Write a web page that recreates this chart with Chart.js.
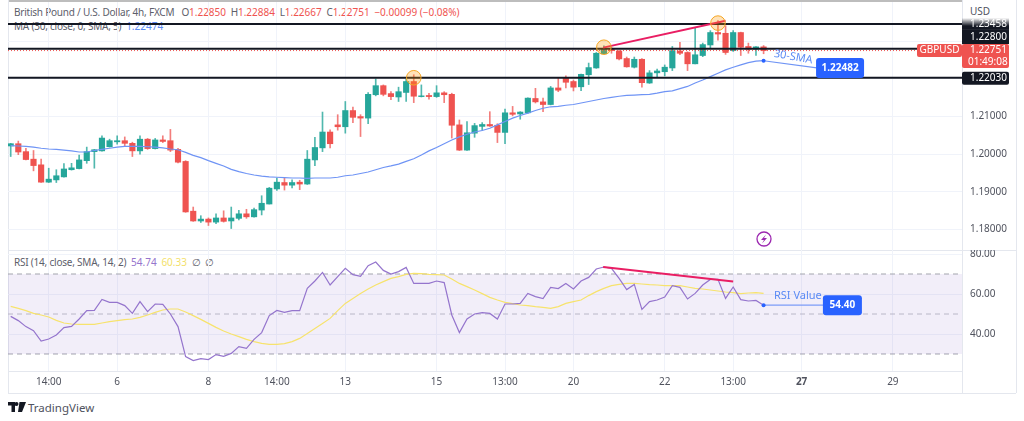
<!DOCTYPE html>
<html>
<head>
<meta charset="utf-8">
<script src="https://cdn.jsdelivr.net/npm/chart.js@4"></script>
<style>
  html, body { margin:0; padding:0; background:#fff; width:1024px; height:421px; overflow:hidden; }
  body { font-family:"Noto Sans", sans-serif; font-size:10px; color:#5d606b; }
  canvas { position:absolute; left:0; z-index:2; }
  #priceChart { top:0; }
  #rsiChart { top:250px; }
  .rule { position:absolute; background:#e4e7ee; }
  .legend { position:absolute; left:14px; white-space:pre; line-height:14px; z-index:1; letter-spacing:-0.22px; }
  .legend span { letter-spacing:0; }
  .red { color:#ef5350; } .blue { color:#5b8bf5; } .purple { color:#9575cd; } .yellow { color:#f3df6c; }
  #logo { position:absolute; left:8px; top:400px; height:14px; display:flex; align-items:center; font-size:11.5px; color:#50535e; }
  #usd { position:absolute; left:970px; top:4px; color:#50535e; }
</style>
</head>
<body>
<div class="rule" style="left:8px;top:0;width:954px;height:2px;background:#bdbdbd"></div>
<div class="rule" style="left:8px;top:0;width:1px;height:393px"></div>
<div class="rule" style="left:962px;top:0;width:1px;height:393px"></div>
<div class="rule" style="left:1016px;top:0;width:1px;height:393px"></div>
<div class="rule" style="left:8px;top:250px;width:1008px;height:1px"></div>
<div class="rule" style="left:8px;top:371px;width:954px;height:1px"></div>
<div class="rule" style="left:8px;top:393px;width:1008px;height:1px"></div>

<div id="usd">USD</div>
<div class="legend" style="top:5px">British Pound / U.S. Dollar, 4h, FXCM   O<span class="red">1.22850</span>  H<span class="red">1.22884</span>  L<span class="red">1.22667</span>  C<span class="red">1.22751</span>  <span class="red">−0.00099 (−0.08%)</span></div>
<div class="legend" style="top:19px">MA (30, close, 0, SMA, 5)  <span class="blue">1.22474</span></div>
<div class="legend" style="top:255px">RSI (14, close, SMA, 14, 2)  <span class="purple">54.74</span>  <span class="yellow">60.33</span>  ∅  ∅</div>

<canvas id="priceChart" width="1024" height="250"></canvas>
<canvas id="rsiChart" width="1024" height="143"></canvas>

<div id="logo">
  <svg width="18" height="10" viewBox="0 0 36 20" style="margin-right:2px"><path fill="#131722" d="M0 0h14v20H7V7H0zM17 0a4 4 0 1 1 0 8 4 4 0 0 1 0-8zM23 0h13l-8 20h-8z"/></svg>
  TradingView
</div>

<script>
  var GREEN = "#26a69a", RED = "#ef5350", BLUE = "#2962ff", FONT = '"Noto Sans", sans-serif';

  // open, high, low, close of each 4h candle
  var candles = [
    [1.2022,1.2029,1.1994,1.2028],[1.2028,1.2035,1.1999,1.2006],[1.2007,1.2016,1.1985,1.1986],[1.1987,1.2010,1.1956,1.1970],
    [1.1972,1.1987,1.1925,1.1926],[1.1926,1.1963,1.1925,1.1934],[1.1932,1.1959,1.1925,1.1943],[1.1940,1.1975,1.1939,1.1961],
    [1.1959,1.1976,1.1958,1.1964],[1.1962,1.1998,1.1961,1.1985],[1.1983,1.2019,1.1976,1.2007],[1.2007,1.2013,1.1963,1.2012],
    [1.2009,1.2049,1.2008,1.2043],[1.2020,1.2040,1.2019,1.2036],[1.2033,1.2049,1.2027,1.2036],[1.2036,1.2046,1.2021,1.2029],
    [1.2029,1.2032,1.1994,1.2009],[1.2009,1.2049,1.2000,1.2040],[1.2040,1.2042,1.2013,1.2015],[1.2015,1.2042,1.2014,1.2038],
    [1.2038,1.2049,1.2031,1.2034],[1.2036,1.2066,1.2007,1.2011],[1.2013,1.2016,1.1977,1.1979],[1.1981,1.1983,1.1846,1.1847],
    [1.1849,1.1860,1.1822,1.1823],[1.1823,1.1837,1.1819,1.1828],[1.1828,1.1831,1.1811,1.1820],[1.1820,1.1842,1.1816,1.1831],
    [1.1831,1.1850,1.1820,1.1822],[1.1823,1.1860,1.1803,1.1831],[1.1830,1.1851,1.1826,1.1842],[1.1842,1.1854,1.1830,1.1834],
    [1.1834,1.1857,1.1833,1.1853],[1.1852,1.1890,1.1839,1.1870],[1.1868,1.1912,1.1868,1.1910],[1.1908,1.1937,1.1904,1.1926],
    [1.1925,1.1937,1.1905,1.1918],[1.1918,1.1932,1.1911,1.1925],[1.1926,1.1931,1.1906,1.1921],[1.1921,1.2010,1.1920,1.1987],
    [1.1985,1.2045,1.1970,1.2018],[1.2017,1.2112,1.2007,1.2059],[1.2059,1.2065,1.2017,1.2028],[1.2078,1.2105,1.2064,1.2073],
    [1.2073,1.2140,1.2056,1.2116],[1.2116,1.2125,1.2084,1.2098],[1.2100,1.2105,1.2047,1.2096],[1.2096,1.2164,1.2081,1.2159],
    [1.2158,1.2200,1.2155,1.2182],[1.2182,1.2184,1.2155,1.2159],[1.2161,1.2166,1.2145,1.2153],[1.2152,1.2178,1.2140,1.2166],
    [1.2164,1.2199,1.2140,1.2193],[1.2193,1.2211,1.2137,1.2154],[1.2153,1.2184,1.2152,1.2155],[1.2156,1.2162,1.2146,1.2153],
    [1.2153,1.2182,1.2151,1.2163],[1.2163,1.2166,1.2137,1.2158],[1.2159,1.2162,1.2043,1.2077],[1.2078,1.2091,1.2010,1.2011],
    [1.2011,1.2087,1.2010,1.2057],[1.2056,1.2082,1.2045,1.2076],[1.2074,1.2084,1.2063,1.2079],[1.2079,1.2113,1.2074,1.2075],
    [1.2077,1.2081,1.2031,1.2058],[1.2058,1.2120,1.2028,1.2110],[1.2110,1.2127,1.2102,1.2106],[1.2107,1.2113,1.2093,1.2112],
    [1.2110,1.2150,1.2109,1.2149],[1.2148,1.2175,1.2136,1.2139],[1.2139,1.2149,1.2113,1.2132],[1.2132,1.2180,1.2131,1.2176],
    [1.2176,1.2202,1.2166,1.2170],[1.2202,1.2208,1.2176,1.2191],[1.2193,1.2197,1.2168,1.2178],[1.2179,1.2213,1.2169,1.2212],
    [1.2211,1.2242,1.2185,1.2230],[1.2229,1.2270,1.2228,1.2268],[1.2267,1.2288,1.2266,1.2281],[1.2281,1.2284,1.2268,1.2275],
    [1.2274,1.2275,1.2250,1.2253],[1.2254,1.2258,1.2231,1.2232],[1.2231,1.2258,1.2229,1.2252],[1.2252,1.2254,1.2178,1.2190],
    [1.2189,1.2222,1.2188,1.2216],[1.2216,1.2226,1.2205,1.2221],[1.2219,1.2237,1.2208,1.2231],[1.2229,1.2286,1.2222,1.2275],
    [1.2274,1.2297,1.2264,1.2268],[1.2270,1.2272,1.2222,1.2240],[1.2240,1.2337,1.2240,1.2264],[1.2262,1.2295,1.2259,1.2291],
    [1.2290,1.2328,1.2281,1.2323],[1.2323,1.2355,1.2303,1.2319],[1.2321,1.2341,1.2265,1.2270],[1.2275,1.2328,1.2273,1.2323],
    [1.2323,1.2324,1.2262,1.2284],[1.2286,1.2295,1.2268,1.2279],[1.2279,1.2286,1.2262,1.2285],[1.22850,1.22884,1.22667,1.22751]
  ];

  var sma30 = [
    1.2023,1.2022,1.2021,1.2019,1.2016,1.2014,1.2013,1.2011,1.2009,1.2006,
    1.2006,1.2010,1.2013,1.2016,1.2019,1.2021,1.2021,1.2021,1.2020,1.2019,
    1.2017,1.2014,1.2012,1.2005,1.1997,1.1991,1.1983,1.1976,1.1969,1.1960,
    1.1954,1.1949,1.1945,1.1942,1.1940,1.1939,1.1938,1.1937,1.1937,1.1936,
    1.1937,1.1937,1.1937,1.1939,1.1943,1.1945,1.1949,1.1953,1.1959,1.1965,
    1.1969,1.1974,1.1981,1.1988,1.1998,1.2009,1.2018,1.2028,1.2038,1.2046,
    1.2053,1.2059,1.2063,1.2069,1.2078,1.2087,1.2096,1.2103,1.2109,1.2116,
    1.2122,1.2126,1.2127,1.2130,1.2132,1.2136,1.2140,1.2144,1.2148,1.2151,
    1.2154,1.2156,1.2157,1.2158,1.2159,1.2162,1.2166,1.2168,1.2174,1.2180,
    1.2189,1.2197,1.2206,1.2215,1.2224,1.2231,1.2237,1.2243,1.2247,1.22482
  ];

  var rsi = [
    48.8,46.7,43.7,41.7,36.5,37.5,39.5,43.2,43.8,47.5,
    51.7,51.8,57.3,55.8,55.8,54.2,50.3,56.2,51.2,55.0,
    54.8,50.0,43.7,28.7,26.7,27.7,27.2,29.7,28.8,30.3,
    33.7,32.8,37.3,40.7,49.2,51.8,50.8,51.7,51.7,62.8,
    66.5,70.8,64.5,68.7,72.8,69.7,68.8,74.2,76.0,71.8,
    70.0,71.2,73.3,65.3,65.3,65.3,66.5,65.7,49.5,40.7,
    47.5,50.0,50.7,50.3,47.5,55.0,55.0,55.3,60.3,58.7,
    57.7,63.3,62.7,65.3,62.5,66.5,68.3,72.5,73.5,72.8,
    67.8,62.2,64.8,52.3,56.2,57.0,58.5,64.2,63.3,57.5,
    60.3,64.5,67.3,67.3,57.8,63.5,57.2,56.5,56.8,54.4
  ];

  var rsiMa = [
    53.8,52.8,51.7,50.3,49.5,48.5,46.8,45.5,45.0,44.8,
    44.8,44.8,45.5,46.2,46.7,47.2,47.5,48.3,49.5,50.8,
    52.0,52.5,52.5,51.0,49.2,47.3,45.3,43.3,41.5,40.0,
    38.7,37.3,36.2,35.3,34.8,34.8,35.2,36.2,37.8,40.2,
    42.8,45.3,47.8,51.7,55.3,57.8,60.3,62.5,64.5,66.2,
    67.8,68.7,69.8,70.3,70.2,69.8,69.7,69.5,67.5,65.3,
    63.7,62.0,60.2,58.3,57.0,55.8,55.2,54.5,54.2,53.7,
    53.3,52.8,53.7,55.3,56.2,57.0,59.2,61.2,62.8,64.2,
    64.8,65.3,65.3,65.0,64.7,64.5,64.2,64.2,64.2,63.5,
    62.8,62.5,62.0,61.5,61.0,60.7,60.2,60.5,60.7,60.33
  ];

  var timeTicks = { 5:"14:00", 14:"6", 26:"8", 35:"14:00", 44:"13", 56:"15", 65:"13:00", 74:"20", 86:"22", 95:"13:00", 104:"27", 116:"29" };
  var tickIdx = Object.keys(timeTicks).map(Number);
  var X_MIN = -0.355, X_MAX = 125.09;
  var levels = [1.23458, 1.22800, 1.22030];
  var LAST = 1.22751;

  function xy(arr) {
    return arr.map(function (v, i) { return { x: i, y: v }; });
  }
  function hline(v) {
    return [{ x: X_MIN, y: v }, { x: X_MAX, y: v }];
  }
  function lineDs(data, color, width, order, extra) {
    return Object.assign({ type: "line", data: data, borderColor: color, borderWidth: width, pointRadius: 0, tension: 0, order: order }, extra || {});
  }
  function xScale(showLabels) {
    return {
      type: "linear", min: X_MIN, max: X_MAX, offset: false,
      afterBuildTicks: function (axis) { axis.ticks = tickIdx.map(function (v) { return { value: v }; }); },
      afterFit: function (axis) {
        axis.height = showLabels ? 22 : 0;
        axis.paddingLeft = 0;
        axis.paddingRight = 0;
      },
      grid: { color: "#f0f3fa", offset: false, drawTicks: false },
      border: { display: false },
      ticks: {
        display: showLabels, autoSkip: false, maxRotation: 0, padding: 5, color: "#50535e",
        font: function (ctx) { return { family: FONT, size: 10, weight: ctx.tick && ctx.tick.value === 104 ? "bold" : "normal" }; },
        callback: function (v) { return timeTicks[v]; }
      }
    };
  }
  // keep the pane edges where they are, tick label padding would shrink the area
  function fitY(axis) {
    axis.width = 62;
    axis.paddingTop = 0;
    axis.paddingBottom = 0;
  }
  function box(ctx, x, y, w, h, r, color) {
    ctx.fillStyle = color;
    ctx.beginPath();
    ctx.roundRect(x, y, w, h, r);
    ctx.fill();
  }
  function label(ctx, text, x, y, color, align) {
    ctx.fillStyle = color;
    ctx.textAlign = align || "left";
    ctx.textBaseline = "middle";
    ctx.fillText(text, x, y);
  }

  // axis tags, callout boxes and the lightning icon
  var priceTags = {
    id: "priceTags",
    afterDatasetsDraw: function (chart) {
      var ctx = chart.ctx, ys = chart.scales.y, xs = chart.scales.x;
      ctx.save();
      ctx.font = "10px " + FONT;

      var y1 = ys.getPixelForValue(levels[0]);
      var grad = ctx.createLinearGradient(0, y1 - 6, 0, y1 + 2);
      grad.addColorStop(0, "rgba(19,23,34,0)");
      grad.addColorStop(1, "#131722");
      ctx.fillStyle = grad;
      ctx.fillRect(962, y1 - 6, 47, 12);
      label(ctx, "1.23458", 970, y1, "#fff");

      box(ctx, 962, 30, 47, 14, 0, "#131722");
      label(ctx, "1.22800", 970, 37, "#fff");

      var y3 = ys.getPixelForValue(levels[2]);
      box(ctx, 962, y3 - 6, 47, 13, 2, "#131722");
      label(ctx, "1.22030", 970, y3 + 0.5, "#fff");

      box(ctx, 962, 44, 47, 24, 2, RED);
      label(ctx, "1.22751", 970, 50.5, "#fff");
      label(ctx, "01:49:08", 968, 62, "#fff");
      box(ctx, 917, 44, 45, 13, 2, RED);
      label(ctx, "GBPUSD", 939.5, 50.5, "#fff", "center");

      // MA callout
      var bx = xs.getPixelForValue(105.9), by = ys.getPixelForValue(1.2229);
      box(ctx, bx, by - 10, 48, 20, 3, BLUE);
      ctx.font = "bold 10px " + FONT;
      label(ctx, "1.22482", bx + 24, by, "#fff", "center");

      ctx.font = "11px " + FONT;
      ctx.translate(xs.getPixelForValue(102.9), ys.getPixelForValue(1.2258));
      ctx.rotate(10 * Math.PI / 180);
      label(ctx, "30-SMA", 0, 0, "#5b8bf5", "center");
      ctx.restore();

      // lightning icon
      ctx.save();
      ctx.strokeStyle = "#9c27b0";
      ctx.lineWidth = 1.3;
      ctx.beginPath();
      ctx.arc(764, 239, 7, 0, Math.PI * 2);
      ctx.stroke();
      ctx.fillStyle = "#9c27b0";
      ctx.beginPath();
      ctx.moveTo(766, 234.5); ctx.lineTo(761, 240); ctx.lineTo(764, 240);
      ctx.lineTo(762, 243.5); ctx.lineTo(767, 238); ctx.lineTo(764, 238);
      ctx.closePath();
      ctx.fill();
      ctx.restore();
    }
  };

  var rsiTags = {
    id: "rsiTags",
    afterDatasetsDraw: function (chart) {
      var ctx = chart.ctx, ys = chart.scales.y, xs = chart.scales.x;
      var bx = xs.getPixelForValue(106.8), by = ys.getPixelForValue(54.4);
      ctx.save();
      box(ctx, bx, by - 10, 39, 20, 3, BLUE);
      ctx.font = "bold 10px " + FONT;
      label(ctx, "54.40", bx + 19.5, by, "#fff", "center");
      ctx.font = "11px " + FONT;
      label(ctx, "RSI Value", bx - 49, by - 9, "#5b8bf5");
      ctx.restore();
    }
  };

  new Chart(document.getElementById("priceChart"), {
    type: "bar",
    plugins: [priceTags],
    data: {
      datasets: [
        { data: candles.map(function (c, i) { return { x: i, y: [c[2], c[1]] }; }),
          backgroundColor: candles.map(function (c) { return c[3] >= c[0] ? "rgba(38,166,154,0.8)" : "rgba(239,83,80,0.75)"; }),
          barThickness: 1, grouped: false, order: 6 },
        { data: candles.map(function (c, i) { return { x: i, y: [c[0], c[3]] }; }),
          backgroundColor: candles.map(function (c) { return c[3] >= c[0] ? GREEN : RED; }),
          barThickness: 5.5, grouped: false, order: 5 },
        lineDs(xy(sma30), "#6f94f5", 1.2, 4),
        lineDs(hline(LAST), RED, 1, 3, { borderDash: [1, 2] }),
        lineDs(hline(levels[0]), "#131722", 2, 2),
        lineDs(hline(levels[1]), "#131722", 2, 2),
        lineDs(hline(levels[2]), "#131722", 2, 2),
        lineDs([{ x: 77.9, y: 1.2283 }, { x: 94, y: 1.2354 }], "#e91e63", 2, 1),
        lineDs([{ x: 99, y: 1.22482 }, { x: 106, y: 1.2229 }], "#6f94f5", 1.2, 1),
        { type: "scatter", data: [{ x: 99, y: 1.22482 }], pointRadius: 2, backgroundColor: BLUE, borderWidth: 0, order: 0 },
        { type: "scatter", data: [{ x: 53, y: 1.2203 }, { x: 78, y: 1.2284 }, { x: 93, y: 1.2348 }],
          pointRadius: 7.3, backgroundColor: "rgba(255,152,0,0.28)", borderColor: "#f5a623", borderWidth: 1, order: 0 }
      ]
    },
    options: {
      responsive: false, animation: false, devicePixelRatio: 1,
      layout: { autoPadding: false, padding: { left: 8, top: 2, right: 0, bottom: 0 } },
      plugins: { legend: { display: false }, tooltip: { enabled: false } },
      scales: {
        x: xScale(false),
        y: {
          position: "right", min: 1.1746, max: 1.2404,
          afterBuildTicks: function (axis) { axis.ticks = [1.18, 1.19, 1.20, 1.21, 1.22, 1.23].map(function (v) { return { value: v }; }); },
          afterFit: fitY,
          grid: { color: "#f0f3fa", drawTicks: false },
          border: { display: false },
          ticks: {
            autoSkip: false, padding: 8, color: "#50535e", font: { family: FONT, size: 10 },
            callback: function (v) { return v < 1.215 ? v.toFixed(5) : ""; }
          }
        }
      }
    }
  });

  new Chart(document.getElementById("rsiChart"), {
    type: "line",
    plugins: [rsiTags],
    data: {
      datasets: [
        lineDs(hline(70), "#a3a5ad", 1, 6, { borderDash: [5, 4], fill: { value: 30 }, backgroundColor: "rgba(126,87,194,0.1)" }),
        lineDs(hline(50), "#c0c2c9", 1, 6, { borderDash: [5, 4] }),
        lineDs(hline(30), "#a3a5ad", 1, 6, { borderDash: [5, 4] }),
        lineDs(xy(rsiMa), "#f7e36d", 1.2, 5),
        lineDs(xy(rsi), "#9575cd", 1.2, 4),
        lineDs([{ x: 77.9, y: 73.5 }, { x: 95, y: 66.2 }], "#e91e63", 2, 1),
        lineDs([{ x: 99, y: 54.4 }, { x: 107, y: 54.4 }], "#7d9cf7", 1.2, 1),
        { type: "scatter", data: [{ x: 99, y: 54.4 }], pointRadius: 2, backgroundColor: BLUE, borderWidth: 0, order: 0 }
      ]
    },
    options: {
      responsive: false, animation: false, devicePixelRatio: 1,
      layout: { autoPadding: false, padding: { left: 8, top: 0, right: 0, bottom: 0 } },
      plugins: { legend: { display: false }, tooltip: { enabled: false } },
      scales: {
        x: xScale(true),
        y: {
          position: "right", min: 21.5, max: 82,
          afterBuildTicks: function (axis) { axis.ticks = [80, 60, 40].map(function (v) { return { value: v }; }); },
          afterFit: fitY,
          grid: { color: "#f0f3fa", drawTicks: false },
          border: { display: false },
          ticks: {
            autoSkip: false, padding: 8, color: "#50535e", font: { family: FONT, size: 10 },
            callback: function (v) { return v.toFixed(2); }
          }
        }
      }
    }
  });
</script>
</body>
</html>
